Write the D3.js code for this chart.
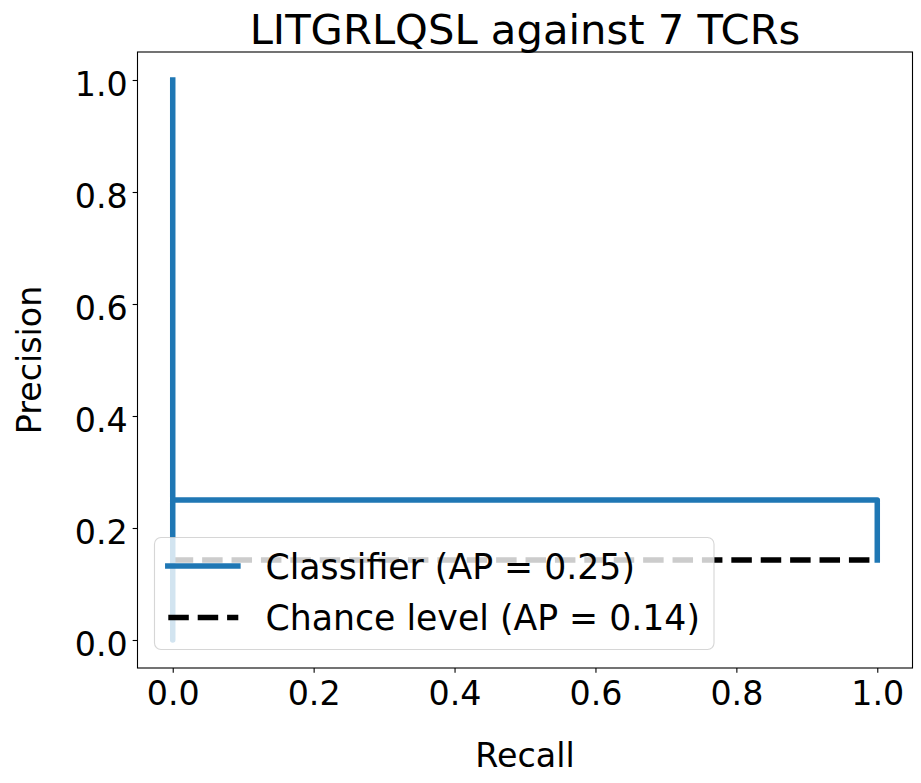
<!DOCTYPE html>
<html>
<head>
<meta charset="utf-8">
<script src="https://cdn.jsdelivr.net/npm/d3@7"></script>
<style>
  body { margin: 0; background: #fff; }
  text { font-family: "DejaVu Sans", sans-serif; fill: #000; }
</style>
</head>
<body>
<div id="app"></div>
<script>
// data
const title = "LITGRLQSL against 7 TCRs";
const recall = [1, 1, 0, 0];
const precision = [0.1429, 0.25, 0, 1];
const chanceX = [0, 1];
const chanceY = [0.1429, 0.1429];
const ticks = [0, 0.2, 0.4, 0.6, 0.8, 1.0];
const legendLabels = ["Classifier (AP = 0.25)", "Chance level (AP = 0.14)"];

// sizing
const width = 921;
const height = 783;
const margin = {left: 137.5, right: 8.5, top: 52, bottom: 115};
const fs = 33.3;
const legendFs = 34.7;
const lw = 5.5;

let svg = d3.select("#app")
.append("svg")
    .attr("width", width)
    .attr("height", height)
    .style("display", "block");

svg.append("rect")
    .attr("width", width)
    .attr("height", height)
    .attr("fill", "#fff");

const x = d3.scaleLinear()
    .domain([-0.05, 1.05])
    .range([margin.left, width - margin.right]);

const y = d3.scaleLinear()
    .domain([-0.05, 1.05])
    .range([height - margin.bottom, margin.top]);

// chance level line
svg.append("path")
    .datum(chanceX.map((d, i) => [d, chanceY[i]]))
    .attr("fill", "none")
    .attr("stroke", "#000")
    .attr("stroke-width", lw)
    .attr("stroke-dasharray", "20.5,8.9")
    .attr("d", d3.line().x(d => x(d[0])).y(d => y(d[1])));

// classifier curve (steps-post)
svg.append("path")
    .datum(recall.map((d, i) => [d, precision[i]]))
    .attr("fill", "none")
    .attr("stroke", "#1f77b4")
    .attr("stroke-width", lw)
    .attr("stroke-linecap", "square")
    .attr("stroke-linejoin", "round")
    .attr("d", d3.line().curve(d3.curveStepAfter).x(d => x(d[0])).y(d => y(d[1])));

// axes
const xAxis = svg.append("g")
    .attr("transform", "translate(0," + y.range()[0] + ")")
    .call(d3.axisBottom(x).tickValues(ticks).tickFormat(d3.format(".1f")).tickSizeInner(4.86).tickSizeOuter(0).tickPadding(4.86));

const yAxis = svg.append("g")
    .attr("transform", "translate(" + x.range()[0] + ",0)")
    .call(d3.axisLeft(y).tickValues(ticks).tickFormat(d3.format(".1f")).tickSizeInner(4.86).tickSizeOuter(0).tickPadding(4.86));

[xAxis, yAxis].forEach(g => {
    g.select(".domain").remove();
    g.selectAll(".tick line").attr("stroke", "#000").attr("stroke-width", 1.1);
    g.selectAll(".tick text")
        .style("font-family", "DejaVu Sans")
        .style("font-size", fs + "px")
        .attr("fill", "#000");
});
xAxis.selectAll(".tick text").attr("dy", null).attr("y", 705 - y.range()[0]);
yAxis.selectAll(".tick text").attr("dy", "0.48em");

// frame
svg.append("rect")
    .attr("x", x.range()[0])
    .attr("y", y.range()[1])
    .attr("width", x.range()[1] - x.range()[0])
    .attr("height", y.range()[0] - y.range()[1])
    .attr("fill", "none")
    .attr("stroke", "#000")
    .attr("stroke-width", 1.1);

// title and labels
svg.append("text")
    .attr("x", (x.range()[0] + x.range()[1]) / 2)
    .attr("y", 43.7)
    .attr("text-anchor", "middle")
    .style("font-size", "41.7px")
    .text(title);

svg.append("text")
    .attr("x", (x.range()[0] + x.range()[1]) / 2)
    .attr("y", 766.5)
    .attr("text-anchor", "middle")
    .style("font-size", fs + "px")
    .text("Recall");

svg.append("text")
    .attr("transform", "translate(40.5," + (y.range()[0] + y.range()[1]) / 2 + ") rotate(-90)")
    .attr("text-anchor", "middle")
    .style("font-size", fs + "px")
    .text("Precision");

// legend
const legend = svg.append("g");
legend.append("rect")
    .attr("x", 154.5)
    .attr("y", 537.5)
    .attr("width", 559.5)
    .attr("height", 112)
    .attr("rx", 6.5)
    .attr("fill", "#fff")
    .attr("fill-opacity", 0.8)
    .attr("stroke", "#ccc")
    .attr("stroke-opacity", 0.8)
    .attr("stroke-width", 1.1);

const rowY = [566, 617.5];
legend.append("line")
    .attr("x1", 167.8).attr("x2", 237.9)
    .attr("y1", rowY[0]).attr("y2", rowY[0])
    .attr("stroke", "#1f77b4")
    .attr("stroke-width", lw)
    .attr("stroke-linecap", "square");
legend.append("line")
    .attr("x1", 168.3).attr("x2", 238.3)
    .attr("y1", rowY[1]).attr("y2", rowY[1])
    .attr("stroke", "#000")
    .attr("stroke-width", lw)
    .attr("stroke-dasharray", "20.5,8.9");

legend.selectAll(".lbl")
    .data(legendLabels)
    .enter().append("text")
        .attr("class", "lbl")
        .attr("x", 265.5)
        .attr("y", (d, i) => [578.5, 630.3][i])
        .style("font-size", legendFs + "px")
        .text(d => d);
</script>
</body>
</html>
